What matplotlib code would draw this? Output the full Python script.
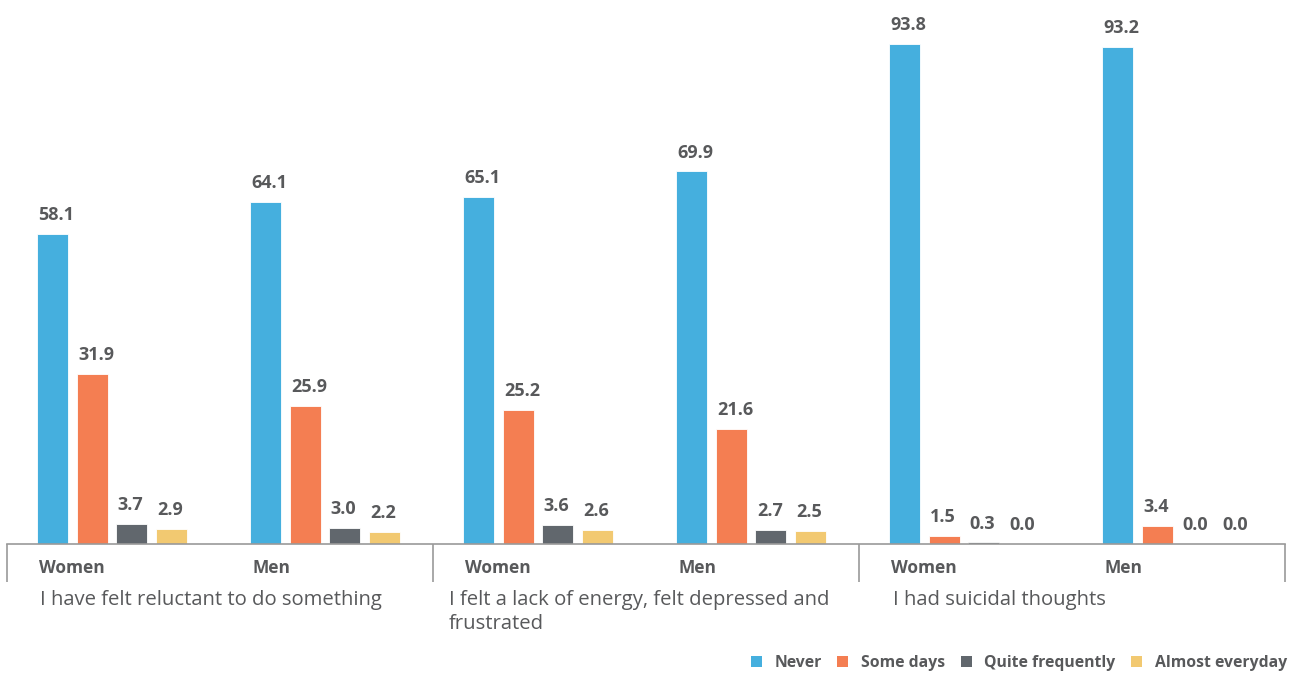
"""Grouped bar chart: frequency of mental health symptoms, women vs men."""

import matplotlib.pyplot as plt
from matplotlib.patches import Patch
from matplotlib.transforms import blended_transform_factory, offset_copy

plt.rcParams["font.family"] = ["Open Sans", "DejaVu Sans"]

questions = [
    "I have felt reluctant to do something",
    "I felt a lack of energy, felt depressed and\nfrustrated",
    "I had suicidal thoughts",
]
genders = ["Women", "Men"]
series = ["Never", "Some days", "Quite frequently", "Almost everyday"]
colors = ["#45AFDE", "#F47E52", "#61676D", "#F2C971"]

# values[question][gender] -> one value per series
values = [
    [[58.1, 31.9, 3.7, 2.9], [64.1, 25.9, 3.0, 2.2]],
    [[65.1, 25.2, 3.6, 2.6], [69.9, 21.6, 2.7, 2.5]],
    [[93.8, 1.5, 0.3, 0.0], [93.2, 3.4, 0.0, 0.0]],
]

TEXT = "#58595B"
AXIS = "#9A9A9A"

fig = plt.figure(figsize=(13, 6.75), dpi=100)
ax = fig.add_axes([7 / 1300, 131 / 675, 1278 / 1300, 544 / 675])

first_left = 0.0704   # left edge of first bar inside a group half
pitch = 0.0932
width = 0.0728

label_tf = offset_copy(ax.transData, fig=fig, x=1, y=10, units="points")
tick_pos, tick_lab = [], []
for g, q_vals in enumerate(values):
    for s, vals in enumerate(q_vals):
        base = g + s * 0.5 + first_left
        tick_pos.append(base + 0.005)
        tick_lab.append(genders[s])
        for k, v in enumerate(vals):
            left = base + k * pitch
            ax.bar(left, v, width=width, align="edge", color=colors[k],
                   edgecolor="white", linewidth=0.6)
            ax.text(left, v, f"{v:.1f}", transform=label_tf, ha="left",
                    va="baseline", fontsize=13, fontweight="bold", color=TEXT)

ax.set_xlim(0, 3)
ax.set_ylim(0, 102.06)
for side in ("top", "right", "left"):
    ax.spines[side].set_visible(False)
ax.spines["bottom"].set_color(AXIS)
ax.spines["bottom"].set_linewidth(1.2)
ax.set_yticks([])

ax.set_xticks(tick_pos)
ax.set_xticklabels(tick_lab, ha="left", fontsize=12.5, fontweight="bold", color=TEXT)
ax.tick_params(axis="x", which="major", length=0, pad=11)
ax.set_xticks([0, 1, 2, 3], minor=True)
ax.tick_params(axis="x", which="minor", length=27, width=1.2, color=AXIS)

trans = blended_transform_factory(ax.transData, fig.transFigure)
q_offsets = [0.0775, 0.038, 0.08]
for g, q in enumerate(questions):
    ax.text(g + q_offsets[g], 1 - 590 / 675, q, transform=trans, ha="left", va="top",
            fontsize=14.6, color=TEXT, linespacing=1.25)

handles = [Patch(facecolor=c, label=lab) for c, lab in zip(colors, series)]
leg = fig.legend(handles=handles, loc="center right", bbox_to_anchor=(0.99, 12 / 675),
                 ncol=4, frameon=False, fontsize=11.3, handlelength=0.7,
                 handleheight=0.7, handletextpad=0.8, columnspacing=1.0,
                 borderpad=0, borderaxespad=0)
for t in leg.get_texts():
    t.set_color(TEXT)
    t.set_fontweight("bold")

fig.savefig("out.png", dpi=100)
